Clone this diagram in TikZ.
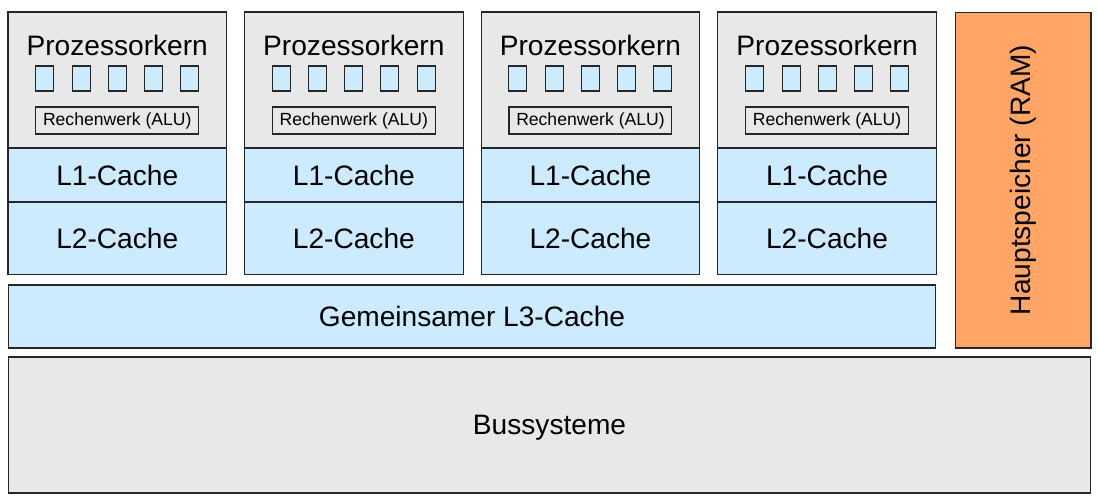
\documentclass[tikz,border=0pt]{standalone}
\usepackage{fontspec}
\setmainfont{Liberation Sans}
\usetikzlibrary{positioning}
\definecolor{kerngrau}{RGB}{232,232,232}
\definecolor{cacheblau}{RGB}{204,235,255}
\definecolor{ramorange}{RGB}{255,166,102}
\begin{document}
\begin{tikzpicture}[x=0.02cm,y=-0.02cm,
  block/.style={draw=black!85,line width=0.6pt,inner sep=0pt,outer sep=0pt},
  kernbox/.style={block,fill=kerngrau,minimum width=4.37cm,minimum height=2.72cm},
  cachebox/.style={block,fill=cacheblau,minimum width=4.37cm,font=\fontsize{16}{19}\selectfont},
  regbox/.style={block,fill=cacheblau,minimum width=0.36cm,minimum height=0.5cm},
  alubox/.style={block,fill=kerngrau,minimum width=3.26cm,minimum height=0.54cm,font=\fontsize{10}{12}\selectfont},
  bigtext/.style={font=\fontsize{16}{19}\selectfont}]
\useasboundingbox (0,0) rectangle (1098,501);

% vier Kerne mit L1 und L2
\foreach \i in {0,...,3} {
  \node[kernbox] (kern\i) at ({117.25+236.6*\i},80) {};
  \node[bigtext,anchor=base] (titel\i) at ({117.25+236.6*\i},55) {Prozessorkern};
  \foreach \j/\dx in {1/-72.5,2/-36,3/0,4/36,5/72.5}
    \node[regbox] (reg\i-\j) at ({117.25+236.6*\i+\dx},78.5) {};
  \node[alubox] (alu\i) at ({117.25+236.6*\i},120.5) {Rechenwerk (ALU)};
  \node[cachebox,minimum height=1.08cm,below=0pt of kern\i] (lone\i) {L1-Cache};
  \node[cachebox,minimum height=1.46cm,below=0pt of lone\i] (ltwo\i) {L2-Cache};
}

% L3, RAM und Bus
\node[block,bigtext,fill=cacheblau,minimum width=18.56cm,minimum height=1.26cm] (lthree) at (472,316.5) {Gemeinsamer L3-Cache};
\node[block,fill=ramorange,minimum width=2.72cm,minimum height=6.72cm] (ram) at (1023,180) {};
\node[bigtext,rotate=90] (ramtext) at (ram.center) {Hauptspeicher (RAM)};
\node[block,bigtext,fill=kerngrau,text depth=0pt,minimum width=21.66cm,minimum height=2.72cm] (bus) at (549.5,425) {Bussysteme};
\end{tikzpicture}
\end{document}
